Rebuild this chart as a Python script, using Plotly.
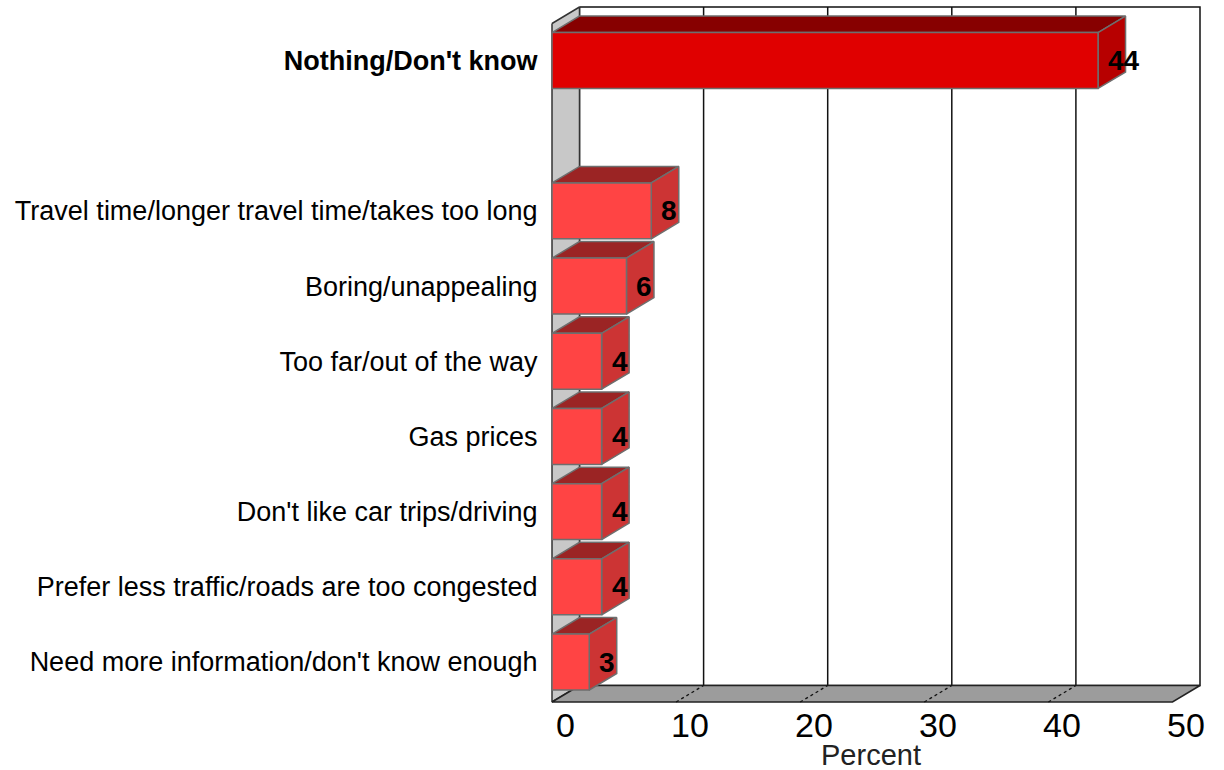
import plotly.graph_objects as go

# Survey responses (percent), listed top to bottom
categories = [
    "Nothing/Don't know",
    "Travel time/longer travel time/takes too long",
    "Boring/unappealing",
    "Too far/out of the way",
    "Gas prices",
    "Don't like car trips/driving",
    "Prefer less traffic/roads are too congested",
    "Need more information/don't know enough",
]
values = [44, 8, 6, 4, 4, 4, 4, 3]
x_ticks = [0, 10, 20, 30, 40, 50]
x_max = 50

# ---- layout geometry (pixels) ----
W, H = 1224, 770
M_L, M_R, M_T, M_B = 548, 0, 0, 60
PX_X = 12.41          # pixels per percent
PX_Y = 75.19          # pixels per category row
ROW0_PX = 60.5        # centre of first row, from top of plot area
DEPTH_PX = (27.5, -16.5)
BAR_HALF = 0.372      # half bar thickness, in rows
WALL_TOP_PX = 23.5
FLOOR_PX = 702
FONT = "Liberation Sans, Arial, sans-serif"


def to_row(px):
    return (px - ROW0_PX) / PX_Y


DX = DEPTH_PX[0] / PX_X
DY = DEPTH_PX[1] / PX_Y
x_range = [-(552 - M_L) / PX_X, (W - M_R - 552) / PX_X]
y_range = [to_row(H - M_B), to_row(0)]

# first row is a summary row; leave an empty row below it
rows = [0] + [i + 1 for i in range(1, len(categories))]

top = to_row(WALL_TOP_PX)
bot = to_row(FLOOR_PX)

fig = go.Figure()


def poly(xs, ys, fill, line_color, width=1.5):
    fig.add_trace(go.Scatter(
        x=list(xs) + [xs[0]], y=list(ys) + [ys[0]],
        mode="lines", fill="toself", fillcolor=fill,
        line=dict(color=line_color, width=width),
        hoverinfo="skip", showlegend=False,
    ))


def seg(xs, ys, color, width=1.5, dash="solid"):
    fig.add_trace(go.Scatter(
        x=xs, y=ys, mode="lines",
        line=dict(color=color, width=width, dash=dash),
        hoverinfo="skip", showlegend=False,
    ))


# back wall
poly([DX, x_max + DX, x_max + DX, DX],
     [top + DY, top + DY, bot + DY, bot + DY], "white", "#111111")
# back wall grid lines
for t in x_ticks[1:-1]:
    seg([t + DX, t + DX], [top + DY, bot + DY], "#111111")
# left side wall
poly([0, DX, DX, 0], [top, top + DY, bot + DY, bot], "#C8C8C8", "#333333")
# floor
poly([0, x_max, x_max + DX, DX], [bot, bot, bot + DY, bot + DY], "#9C9C9C", "#222222")
for t in x_ticks[1:-1]:
    seg([t, t + DX], [bot, bot + DY], "#111111", 1.3, "dot")

# 3D bars
for i, (v, r) in enumerate(zip(values, rows)):
    if i == 0:
        front, topc, side = "#E00000", "#870000", "#B70000"
    else:
        front, topc, side = "#FF4444", "#9B2424", "#CC3434"
    y0, y1 = r - BAR_HALF, r + BAR_HALF
    edge = "#6E6E6E"
    poly([0, v, v + DX, DX], [y0, y0, y0 + DY, y0 + DY], topc, edge)
    poly([v, v + DX, v + DX, v], [y0, y0 + DY, y1 + DY, y1], side, edge)
    poly([0, v, v, 0], [y0, y0, y1, y1], front, edge)
    fig.add_annotation(
        x=v, y=r, xref="x", yref="y", text=f"<b>{v}</b>", showarrow=False,
        xanchor="left", yanchor="middle", xshift=8,
        font=dict(family=FONT, size=28, color="#000000"),
    )

# value-axis tick labels, centred at mid-depth below the floor
for t in x_ticks:
    fig.add_annotation(
        x=t + DX / 2, y=0, xref="x", yref="paper", text=str(t), showarrow=False,
        xanchor="center", yanchor="middle", yshift=-15,
        font=dict(family=FONT, size=34, color="#000000"),
    )

fig.add_annotation(
    x=25.7, y=0, xref="x", yref="paper", text="Percent", showarrow=False,
    xanchor="center", yanchor="middle", yshift=-45,
    font=dict(family=FONT, size=29, color="#222222"),
)

ticktext = [f"<b>{c}</b>" if i == 0 else c for i, c in enumerate(categories)]

fig.update_layout(
    width=W, height=H,
    margin=dict(l=M_L, r=M_R, t=M_T, b=M_B, pad=0),
    paper_bgcolor="white", plot_bgcolor="white",
    showlegend=False, hovermode=False,
    xaxis=dict(
        range=x_range, showgrid=False, zeroline=False, showline=False,
        showticklabels=False, ticks="", fixedrange=True,
    ),
    yaxis=dict(
        range=y_range, showgrid=False, zeroline=False, showline=False,
        tickmode="array", tickvals=rows, ticktext=ticktext,
        ticks="outside", ticklen=4, tickcolor="rgba(0,0,0,0)",
        tickfont=dict(family=FONT, size=27, color="#000000"),
        fixedrange=True,
    ),
)

fig.write_html("out.html")
